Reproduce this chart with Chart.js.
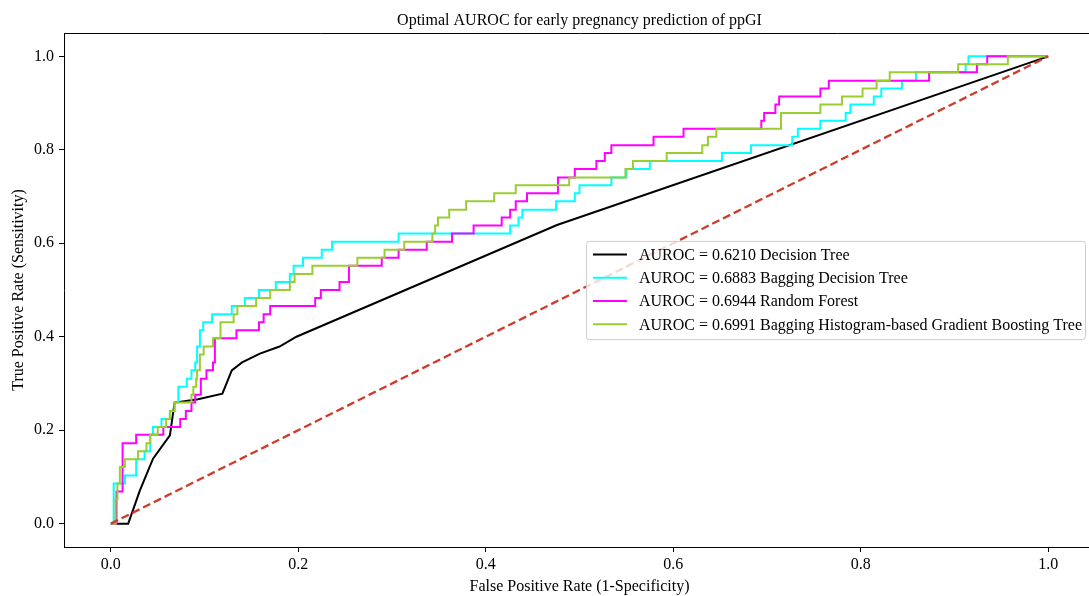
<!DOCTYPE html>
<html>
<head>
<meta charset="utf-8">
<title>Optimal AUROC</title>
<script src="https://cdn.jsdelivr.net/npm/chart.js@4.4.1/dist/chart.umd.min.js"></script>
<style>
  html, body { margin: 0; padding: 0; background: #fff; overflow: hidden; }
  #wrap { width: 1089px; height: 596px; overflow: hidden; }
  #rocChart { display: block; }
</style>
</head>
<body>
<div id="wrap"><canvas id="rocChart" width="1159" height="596"></canvas></div>
<script>
// ---------------- Data ----------------
const chartTitle = 'Optimal AUROC for early pregnancy prediction of ppGI';
const xAxisTitle = 'False Positive Rate (1-Specificity)';
const yAxisTitle = 'True Positive Rate (Sensitivity)';
const xTicks = [0.0, 0.2, 0.4, 0.6, 0.8, 1.0];
const yTicks = [0.0, 0.2, 0.4, 0.6, 0.8, 1.0];

const modelLabels = [
  'AUROC = 0.6210 Decision Tree',
  'AUROC = 0.6883 Bagging Decision Tree',
  'AUROC = 0.6944 Random Forest',
  'AUROC = 0.6991 Bagging Histogram-based Gradient Boosting Tree'
];
const modelColors = ['#000000', '#00ffff', '#ff00ff', '#9acd32'];
const chanceColor = '#d03a2b';

// Decision Tree (plain polyline)
const dtFpr = [0, 0.0185, 0.031, 0.045, 0.063, 0.068, 0.093, 0.119, 0.129, 0.14, 0.159, 0.18, 0.198, 0.476, 1];
const dtTpr = [0, 0, 0.071, 0.139, 0.189, 0.259, 0.266, 0.278, 0.328, 0.345, 0.364, 0.379, 0.40, 0.639, 1];

// step curves: each point is the top of a vertical step
const bdtFpr = [0, 0.003, 0.015, 0.027, 0.036, 0.042, 0.045, 0.054, 0.063, 0.068,
  0.072, 0.081, 0.086, 0.09, 0.092, 0.095, 0.0985, 0.108, 0.129, 0.143,
  0.158, 0.176, 0.191, 0.195, 0.205, 0.225, 0.236, 0.307, 0.426, 0.435,
  0.439, 0.475, 0.495, 0.5, 0.534, 0.55, 0.575, 0.652, 0.683, 0.727,
  0.733, 0.757, 0.784, 0.789, 0.814, 0.822, 0.844, 0.859, 0.912, 0.915, 1];
const bdtTpr = [0, 0.086, 0.103, 0.138, 0.155, 0.19, 0.207, 0.224, 0.241, 0.259,
  0.293, 0.31, 0.328, 0.345, 0.379, 0.414, 0.431, 0.448, 0.466, 0.483,
  0.5, 0.517, 0.534, 0.552, 0.569, 0.586, 0.603, 0.621, 0.638, 0.655,
  0.672, 0.69, 0.707, 0.724, 0.741, 0.759, 0.776, 0.793, 0.81, 0.828,
  0.845, 0.862, 0.879, 0.897, 0.914, 0.931, 0.948, 0.966, 0.983, 1.0, 1.0];

const rfFpr = [0, 0.006, 0.0125, 0.027, 0.056, 0.074, 0.08, 0.086, 0.09, 0.096,
  0.102, 0.109, 0.111, 0.134, 0.158, 0.163, 0.17, 0.218, 0.224, 0.244,
  0.254, 0.289, 0.307, 0.337, 0.364, 0.387, 0.417, 0.426, 0.432, 0.444,
  0.477, 0.495, 0.518, 0.527, 0.534, 0.579, 0.611, 0.694, 0.697, 0.709,
  0.713, 0.757, 0.766, 0.873, 0.924, 0.935, 1];
const rfTpr = [0, 0.069, 0.172, 0.19, 0.207, 0.224, 0.241, 0.259, 0.276, 0.31,
  0.328, 0.345, 0.397, 0.414, 0.431, 0.448, 0.466, 0.483, 0.5, 0.517,
  0.552, 0.569, 0.586, 0.603, 0.621, 0.638, 0.655, 0.672, 0.69, 0.707,
  0.741, 0.759, 0.776, 0.793, 0.81, 0.828, 0.845, 0.862, 0.879, 0.897,
  0.914, 0.931, 0.948, 0.966, 0.983, 1.0, 1.0];

const hgbFpr = [0, 0.005, 0.007, 0.0096, 0.015, 0.029, 0.038, 0.042, 0.05, 0.059,
  0.063, 0.068, 0.086, 0.088, 0.091, 0.092, 0.095, 0.099, 0.109, 0.117,
  0.131, 0.135, 0.155, 0.170, 0.191, 0.196, 0.215, 0.263, 0.292, 0.313,
  0.343, 0.346, 0.349, 0.361, 0.379, 0.409, 0.432, 0.489, 0.549, 0.557,
  0.593, 0.631, 0.637, 0.646, 0.715, 0.757, 0.780, 0.802, 0.817, 0.831,
  0.904, 0.957, 1];
const hgbTpr = [0, 0.052, 0.086, 0.121, 0.138, 0.155, 0.172, 0.19, 0.207, 0.224,
  0.241, 0.259, 0.276, 0.293, 0.31, 0.328, 0.362, 0.379, 0.397, 0.431,
  0.448, 0.466, 0.483, 0.5, 0.517, 0.534, 0.552, 0.569, 0.586, 0.603,
  0.621, 0.638, 0.655, 0.672, 0.69, 0.707, 0.724, 0.741, 0.759, 0.776,
  0.793, 0.81, 0.828, 0.845, 0.879, 0.897, 0.914, 0.931, 0.948, 0.966,
  0.983, 1.0, 1.0];

// chance line
const chanceFpr = [0, 1];
const chanceTpr = [0, 1];

// ---------------- Helpers ----------------
const serif = "'Liberation Serif', 'Times New Roman', serif";
const fontSize = 16;

function toPoints(xs, ys) {
  return xs.map((x, i) => ({ x, y: ys[i] }));
}

// top spine (the right one falls outside the window, as in the reference)
const topSpine = {
  id: 'topSpine',
  afterDraw(chart) {
    const { ctx, chartArea: a } = chart;
    ctx.save();
    ctx.strokeStyle = '#000';
    ctx.lineWidth = 1;
    ctx.beginPath();
    ctx.moveTo(a.left, a.top + 0.5);
    ctx.lineTo(a.right, a.top + 0.5);
    ctx.stroke();
    ctx.restore();
  }
};

// matplotlib-like legend, centre right inside the axes
const insideLegend = {
  id: 'insideLegend',
  afterDraw(chart) {
    const { ctx, chartArea: a } = chart;
    ctx.save();
    ctx.font = `${fontSize}px ${serif}`;
    const textW = Math.max(...modelLabels.map(l => ctx.measureText(l).width));
    const rowH = 23.3;
    const w = 53 + textW + 3;
    const h = rowH * modelLabels.length + 5;
    const x = a.right - 10 - w;
    const y = (a.top + a.bottom) / 2 - h / 2;

    ctx.beginPath();
    ctx.roundRect(x + 0.5, y + 0.5, w, h, 3);
    ctx.fillStyle = 'rgba(255,255,255,0.8)';
    ctx.fill();
    ctx.strokeStyle = '#cccccc';
    ctx.lineWidth = 1;
    ctx.stroke();

    ctx.textBaseline = 'middle';
    ctx.textAlign = 'left';
    modelLabels.forEach((label, i) => {
      const ry = y + 13.5 + i * rowH;
      ctx.beginPath();
      ctx.moveTo(x + 7, ry);
      ctx.lineTo(x + 41, ry);
      ctx.strokeStyle = modelColors[i];
      ctx.lineWidth = 2;
      ctx.stroke();
      ctx.fillStyle = '#000';
      ctx.fillText(label, x + 53, ry + 1);
    });
    ctx.restore();
  }
};

// ---------------- Chart ----------------
const lineBase = { pointRadius: 0, borderWidth: 2, fill: false, tension: 0 };

new Chart(document.getElementById('rocChart'), {
  type: 'line',
  data: {
    datasets: [
      { ...lineBase, label: modelLabels[0], data: toPoints(dtFpr, dtTpr), borderColor: modelColors[0], order: 5 },
      { ...lineBase, label: modelLabels[1], data: toPoints(bdtFpr, bdtTpr), borderColor: modelColors[1], stepped: 'before', order: 4 },
      { ...lineBase, label: modelLabels[2], data: toPoints(rfFpr, rfTpr), borderColor: modelColors[2], stepped: 'before', order: 3 },
      { ...lineBase, label: modelLabels[3], data: toPoints(hgbFpr, hgbTpr), borderColor: modelColors[3], stepped: 'before', order: 2 },
      { ...lineBase, label: 'chance', data: toPoints(chanceFpr, chanceTpr), borderColor: chanceColor, borderWidth: 2.3, borderDash: [8, 4], order: 1 }
    ]
  },
  options: {
    responsive: false,
    animation: false,
    events: [],
    // the axes run past the right edge of the window, as in the reference
    layout: { padding: { left: 0, right: 64, top: 0, bottom: 0 } },
    plugins: {
      legend: { display: false },
      tooltip: { enabled: false },
      title: {
        display: true,
        fullSize: false,
        text: chartTitle,
        color: '#000',
        font: { family: serif, size: fontSize, weight: 'normal' },
        padding: { top: 11, bottom: 2.8 }
      }
    },
    scales: {
      x: {
        type: 'linear',
        min: -0.05,
        max: 1.05,
        afterBuildTicks: (scale) => { scale.ticks = xTicks.map(v => ({ value: v })); },
        afterFit: (scale) => { scale.height = 49; },
        grid: { drawOnChartArea: false, drawTicks: true, tickLength: 5, color: '#000' },
        border: { display: true, color: '#000', width: 1 },
        ticks: {
          color: '#000', padding: 3, maxRotation: 0,
          font: { family: serif, size: fontSize },
          callback: (v) => Number(v).toFixed(1)
        },
        title: {
          display: true, text: xAxisTitle, color: '#000',
          font: { family: serif, size: fontSize },
          padding: { top: 0, bottom: 0 }
        }
      },
      y: {
        type: 'linear',
        min: -0.05,
        max: 1.05,
        afterBuildTicks: (scale) => { scale.ticks = yTicks.map(v => ({ value: v })); },
        afterFit: (scale) => { scale.width = 64; },
        grid: { drawOnChartArea: false, drawTicks: true, tickLength: 5, color: '#000' },
        border: { display: true, color: '#000', width: 1 },
        ticks: {
          color: '#000', padding: 5,
          font: { family: serif, size: fontSize },
          callback: (v) => Number(v).toFixed(1)
        },
        title: {
          display: true, text: yAxisTitle, color: '#000',
          font: { family: serif, size: fontSize },
          padding: { top: 9, bottom: 0 }
        }
      }
    }
  },
  plugins: [topSpine, insideLegend]
});
</script>
</body>
</html>
